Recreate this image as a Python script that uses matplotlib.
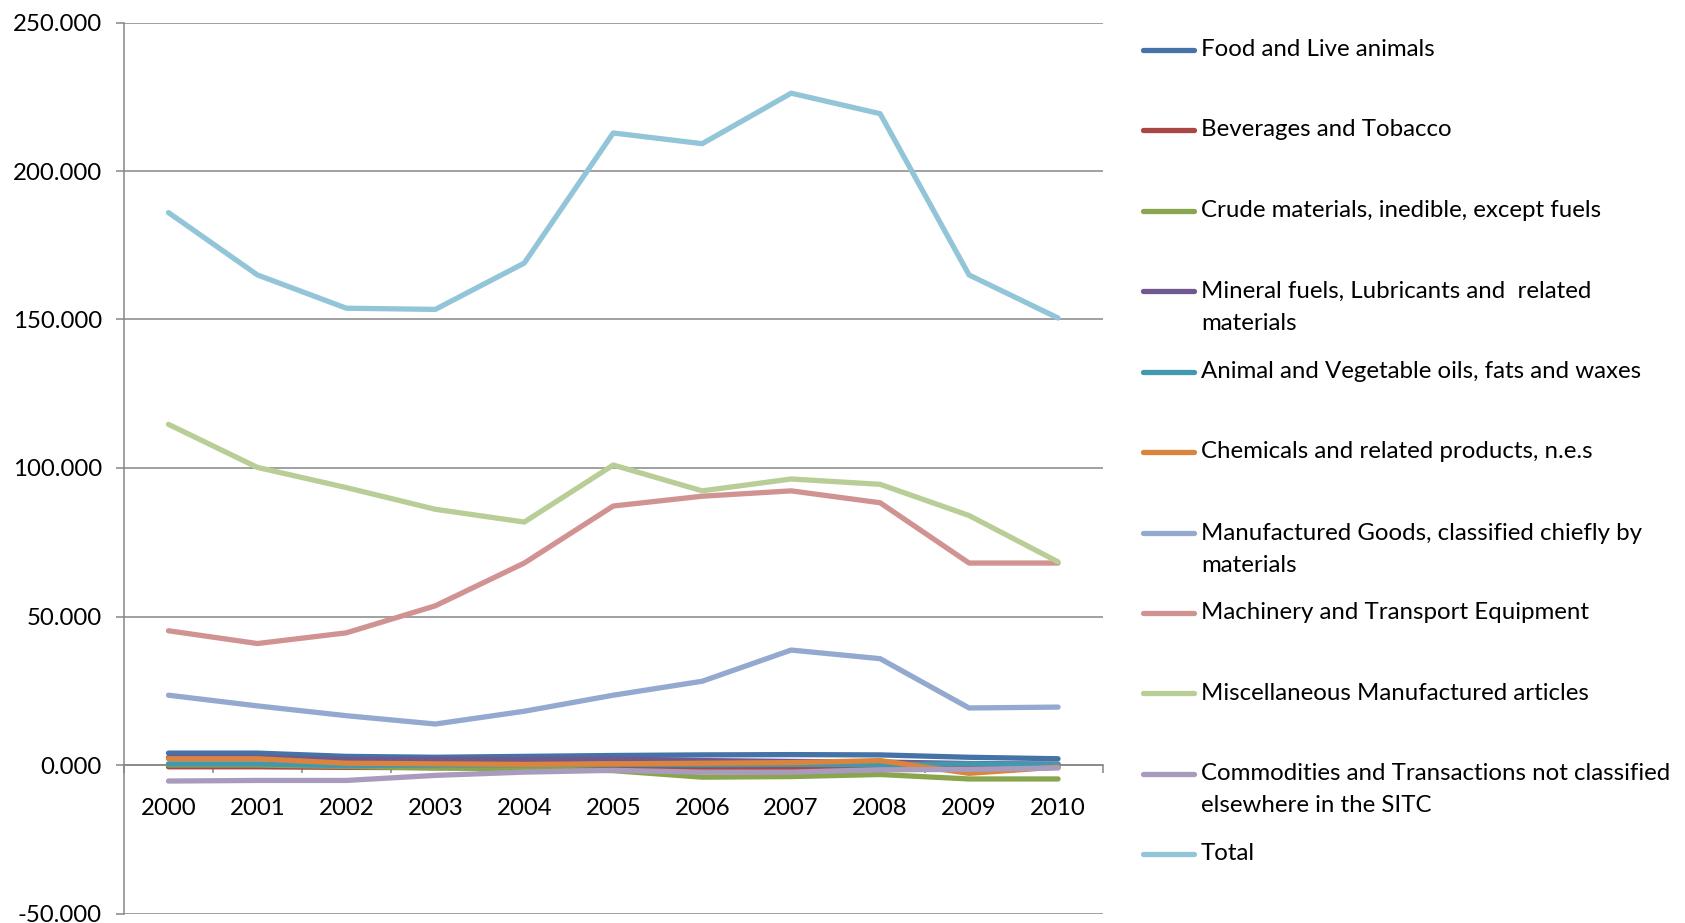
import matplotlib
matplotlib.use("Agg")
import matplotlib.pyplot as plt
from matplotlib.lines import Line2D
from matplotlib.ticker import FuncFormatter, FixedLocator

plt.rcParams["font.family"] = ["Lato", "DejaVu Sans"]
plt.rcParams["axes.unicode_minus"] = False

years = ["2000", "2001", "2002", "2003", "2004", "2005",
         "2006", "2007", "2008", "2009", "2010"]

food = [4.0, 4.0, 2.9, 2.6, 2.9, 3.2, 3.4, 3.5, 3.4, 2.6, 2.1]
beverages = [-0.6, -0.6, -0.8, -0.9, -1.0, -1.0, -1.3, -1.3, -1.2, -1.0, -0.8]
crude = [0.0, 0.0, -0.5, -1.0, -1.2, -1.9, -4.1, -3.9, -3.2, -4.7, -4.7]
mineral = [2.5, 2.5, 1.8, 1.8, 1.8, 2.0, 1.5, 1.2, 1.0, 0.5, 0.3]
oils = [0.4, 0.4, -0.2, 0.0, 0.1, 0.2, 0.1, 0.2, 0.1, 0.4, 0.2]
chemicals = [2.1, 2.1, 0.6, 0.4, 0.2, 0.4, 0.6, 0.8, 1.5, -2.8, -0.7]
manufactured = [23.5, 19.9, 16.6, 13.8, 18.1, 23.5, 28.2, 38.7, 35.8, 19.2, 19.5]
machinery = [45.2, 40.9, 44.5, 53.6, 68.0, 87.2, 90.5, 92.3, 88.3, 68.0, 68.0]
misc = [114.7, 100.2, 93.4, 86.1, 81.8, 101.0, 92.3, 96.3, 94.5, 84.0, 68.4]
commodities = [-5.4, -5.2, -5.2, -3.5, -2.4, -1.8, -2.4, -2.4, -1.6, -1.5, -1.0]
total = [186.0, 165.0, 153.8, 153.4, 169.0, 212.8, 209.2, 226.2, 219.3, 165.0, 150.5]

labels = [
    "Food and Live animals",
    "Beverages and Tobacco",
    "Crude materials, inedible, except fuels",
    "Mineral fuels, Lubricants and  related\nmaterials",
    "Animal and Vegetable oils, fats and waxes",
    "Chemicals and related products, n.e.s",
    "Manufactured Goods, classified chiefly by\nmaterials",
    "Machinery and Transport Equipment",
    "Miscellaneous Manufactured articles",
    "Commodities and Transactions not classified\nelsewhere in the SITC",
    "Total",
]
series = [food, beverages, crude, mineral, oils, chemicals,
          manufactured, machinery, misc, commodities, total]
colors = ["#4572A7", "#AA4643", "#89A54E", "#71588F", "#4198AF", "#DB843D",
          "#93A9CF", "#D19392", "#B9CD96", "#A99BBD", "#92C5D8"]

FS = 17.3
LW = 3.8
W, H = 1685, 923
fig = plt.figure(figsize=(W / 100, H / 100), dpi=100)
ax = fig.add_axes([124 / W, 1 - 913.5 / H, (1102.5 - 124) / W, (913.5 - 22.5) / H])

x = list(range(len(years)))
for vals, col in zip(series, colors):
    ax.plot(x, vals, color=col, lw=LW, solid_capstyle="round",
            solid_joinstyle="round", zorder=3)

ax.set_xlim(-0.5, len(years) - 0.5)
ax.set_ylim(-50, 250)
ax.set_yticks([-50, 0, 50, 100, 150, 200, 250])
ax.yaxis.set_major_formatter(FuncFormatter(lambda v, p: f"{v:.3f}"))
ax.grid(axis="y", color="#868686", lw=1.1, zorder=1)

grey = "#868686"
for s in ["top", "right"]:
    ax.spines[s].set_visible(False)
ax.spines["left"].set_color(grey)
ax.spines["left"].set_linewidth(1.1)
ax.spines["bottom"].set_position(("data", 0))
ax.spines["bottom"].set_color(grey)
ax.spines["bottom"].set_linewidth(1.1)

# tick marks sit between categories, year labels at category centres
ax.xaxis.set_major_locator(FixedLocator([i - 0.5 for i in range(len(years) + 1)]))
ax.xaxis.set_major_formatter(FuncFormatter(lambda v, p: ""))
ax.xaxis.set_minor_locator(FixedLocator(x))
ax.set_xticklabels(years, minor=True)
ax.tick_params(axis="x", which="major", length=6, width=1.1, color=grey, direction="out")
ax.tick_params(axis="x", which="minor", length=0, pad=24, labelsize=FS)
ax.tick_params(axis="y", length=6, width=1.1, color=grey, direction="out",
               pad=10, labelsize=FS)

# legend on the right: one line handle and label per series
ys = [49.5, 130, 210.5, 291, 371.5, 452, 533, 612.5, 693, 773.5, 854]
for lab, col, yy in zip(labels, colors, ys):
    fy = 1 - yy / H
    fig.add_artist(Line2D([1143 / W, 1194 / W], [fy, fy], color=col, lw=LW,
                          solid_capstyle="round", transform=fig.transFigure))
    for k, part in enumerate(lab.split("\n")):
        fig.text(1201 / W, fy - k * 32.2 / H, part, fontsize=FS,
                 va="center", ha="left")

fig.savefig("out.png", dpi=100)
